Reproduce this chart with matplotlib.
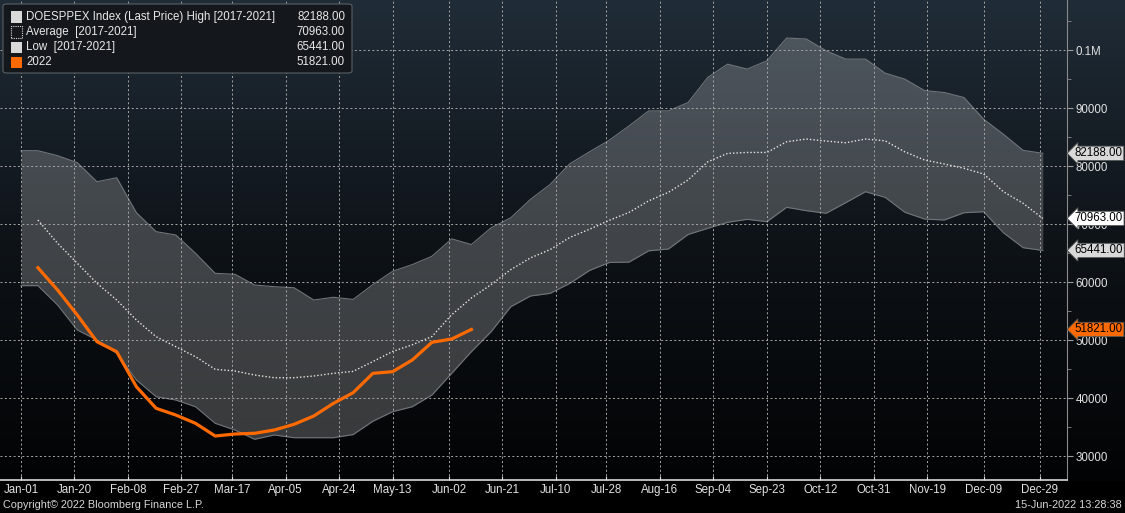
import numpy as np
import pandas as pd
import matplotlib
matplotlib.use("Agg")
from matplotlib import pyplot as plt
from matplotlib import font_manager
from matplotlib.ticker import MultipleLocator, FuncFormatter
from matplotlib.patches import FancyBboxPatch, Rectangle

names = {f.name for f in font_manager.fontManager.ttflist}
narrow = 'Liberation Sans Narrow' in names
plt.rcParams['font.family'] = ['Liberation Sans Narrow', 'Liberation Sans', 'DejaVu Sans'] if narrow else ['Liberation Sans', 'DejaVu Sans']
fs = 11 if narrow else 8.3

# weekly values, week ending Jan-07 .. Dec-30
high = [82640, 81780, 80570, 77290, 77980, 71950, 68680, 68110, 64950, 61500,
        61330, 59490, 59190, 59020, 56900, 57370, 57000, 59550, 61850, 63000,
        64440, 67440, 66460, 69340, 71070, 74240, 76830, 80400, 82450, 84450,
        86900, 89500, 89500, 90950, 95270, 97560, 96700, 98140, 102060, 101890,
        99870, 98430, 98430, 96010, 94970, 93000, 92670, 91810, 88060, 85470,
        82700, 82188]
avg = [70690, 66680, 63230, 59780, 56900, 53450, 50570, 48850, 47120, 44950,
       44660, 43970, 43500, 43500, 43800, 44260, 44600, 46290, 48020, 49180,
       50610, 54360, 57250, 59550, 62140, 64160, 65600, 67700, 69100, 70640,
       72000, 74000, 75460, 77600, 80730, 82170, 82340, 82340, 84180, 84650,
       84300, 84010, 84650, 84340, 82440, 81030, 80350, 79610, 78620, 75570,
       73570, 70963]
low = [59370, 56040, 51730, 50000, 47710, 43110, 40230, 39660, 38500, 35640,
       34490, 32890, 33630, 33160, 33160, 33160, 33700, 36000, 37640, 38500,
       40520, 44260, 47990, 51430, 55740, 57590, 58050, 59780, 62000, 63370,
       63430, 65380, 65690, 68200, 69260, 70290, 70810, 70400, 72880, 72300,
       71850, 73680, 75570, 74600, 72020, 70860, 70690, 71950, 72120, 68500,
       65920, 65441]
y2022 = [62470, 58620, 54310, 49710, 47990, 41950, 38230, 37070, 35640, 33450,
         33800, 33920, 34490, 35470, 36900, 39090, 40920, 44260, 44540, 46560,
         49610, 50180, 51821]

tick_labels = ['Jan-01', 'Jan-20', 'Feb-08', 'Feb-27', 'Mar-17', 'Apr-05',
               'Apr-24', 'May-13', 'Jun-02', 'Jun-21', 'Jul-10', 'Jul-28',
               'Aug-16', 'Sep-04', 'Sep-23', 'Oct-12', 'Oct-31', 'Nov-19',
               'Dec-09', 'Dec-29']

legend_names = ['DOESPPEX Index (Last Price) High [2017-2021]',
                'Average  [2017-2021]', 'Low  [2017-2021]', '2022']
legend_values = ['82188.00', '70963.00', '65441.00', '51821.00']

weeks = pd.Timestamp('2022-01-07') + pd.to_timedelta(np.arange(len(high)) * 7, unit='D')
band_x = [pd.Timestamp('2022-01-01')] + list(weeks)
band_hi = [high[0]] + high
band_lo = [low[0]] + low
ticks = pd.to_datetime(['2022-' + t for t in tick_labels], format='%Y-%b-%d')

W, H = 1125, 513
fig = plt.figure(figsize=(W / 100, H / 100), dpi=100)
fig.patch.set_facecolor('black')

# background gradient
bg = fig.add_axes([0, 0, 1, 1], zorder=-5)
bg.set_axis_off()
rows = np.arange(H)
t = np.clip(rows / 480.0, 0, 1)
top = np.array([32, 44, 55]) / 255
mid = np.array([14, 19, 24]) / 255
bot = np.array([2, 3, 4]) / 255
col = np.where(t[:, None] < 0.5,
               top + (mid - top) * (t[:, None] / 0.5),
               mid + (bot - mid) * ((t[:, None] - 0.5) / 0.5))
col[rows > 480] = 0
bg.imshow(col[:, None, :], aspect='auto', extent=[0, 1, 0, 1])

ax = fig.add_axes([0, 33 / H, 1067 / W, 480 / H])
ax.set_facecolor('none')

ax.fill_between(band_x, band_lo, band_hi, color='white', alpha=0.21, lw=0, zorder=1)
ax.plot(band_x, band_hi, color='#70757a', lw=0.8, zorder=2)
ax.plot(band_x, band_lo, color='#70757a', lw=0.8, zorder=2)
ax.plot(weeks, avg, color='#e8e8e8', lw=1.0, linestyle=(0, (1, 1.5)), zorder=4)
ax.plot(weeks[:len(y2022)], y2022, color='#ff6a00', lw=2.3, zorder=5,
        solid_joinstyle='round')

ax.set_xlim(pd.Timestamp('2022-01-01') - pd.Timedelta(days=7.46),
            pd.Timestamp('2022-01-01') + pd.Timedelta(days=371.6))
ax.set_ylim(25870, 108620)

ax.set_xticks(ticks)
ax.set_xticklabels(tick_labels)
ax.yaxis.tick_right()
ax.yaxis.set_major_locator(MultipleLocator(10000))
ax.yaxis.set_minor_locator(MultipleLocator(5000))
ax.yaxis.set_major_formatter(FuncFormatter(
    lambda v, p: '0.1M' if v >= 100000 else '%d' % v))

ax.grid(True, which='major', color='#a8a8a8', lw=0.7, linestyle=(0, (2, 2.5)), zorder=3)
ax.set_axisbelow(False)
for s in ['top', 'left']:
    ax.spines[s].set_visible(False)
ax.spines['right'].set_color('#8a8a8a')
ax.spines['bottom'].set_color('#d8d8d8')
ax.spines['bottom'].set_linewidth(1.2)

ax.tick_params(axis='y', which='major', direction='out', length=4, color='#9a9a9a',
               labelcolor='#e2e2e2', labelsize=fs, pad=2)
ax.tick_params(axis='y', which='minor', direction='out', length=3, color='#8a8a8a')
ax.tick_params(axis='x', direction='in', length=3, color='#e0e0e0',
               labelcolor='#e2e2e2', labelsize=fs, pad=3)

# value tags on the right axis
tag_styles = [('#d9d9d9', 'black'), ('white', 'black'), ('#d9d9d9', 'black'), ('#ff6a00', 'black')]
tag_vals = [high[-1], avg[-1], low[-1], y2022[-1]]
for v, txt, (fc, tc) in zip(tag_vals, legend_values, tag_styles):
    ax.annotate(txt, xy=(1, v), xycoords=('axes fraction', 'data'),
                xytext=(5.5, 0), textcoords='offset points', va='center', ha='left',
                fontsize=fs, color=tc, zorder=10, annotation_clip=False,
                bbox=dict(boxstyle='larrow,pad=0.1', fc=fc, ec='#555555', lw=0.6))

# legend box
fig.patches.append(FancyBboxPatch((3 / W, 1 - 73 / H), 349 / W, 69 / H,
                                  boxstyle='round,pad=0,rounding_size=0.004',
                                  transform=fig.transFigure, fc='#14181c', ec='#5a5f64',
                                  lw=0.8, zorder=20))
sq_face = ['#d9d9d9', 'none', '#d9d9d9', '#ff6a00']
for i, (name, val) in enumerate(zip(legend_names, legend_values)):
    yc = 17 + i * 15
    fig.patches.append(Rectangle((11 / W, 1 - (yc + 5.5) / H), 11 / W, 11 / H,
                                 transform=fig.transFigure, fc=sq_face[i],
                                 ec='#d9d9d9' if i == 1 else 'none',
                                 ls=(0, (1, 1)), lw=0.8, zorder=21))
    fig.text(26 / W, 1 - yc / H, name, color='#e8e8e8', fontsize=fs,
             va='center', ha='left', zorder=22)
    fig.text(345 / W, 1 - yc / H, val, color='#e8e8e8', fontsize=fs,
             va='center', ha='right', zorder=22)

fig.text(3 / W, 1 - 505 / H, 'Copyright\u00a9 2022 Bloomberg Finance L.P.',
         color='#d8d8d8', fontsize=fs - 0.5, va='center', ha='left')
fig.text(1122 / W, 1 - 505 / H, '15-Jun-2022 13:28:38',
         color='#d8d8d8', fontsize=fs - 0.5, va='center', ha='right')

fig.savefig('out.png', dpi=100, facecolor=fig.get_facecolor())
